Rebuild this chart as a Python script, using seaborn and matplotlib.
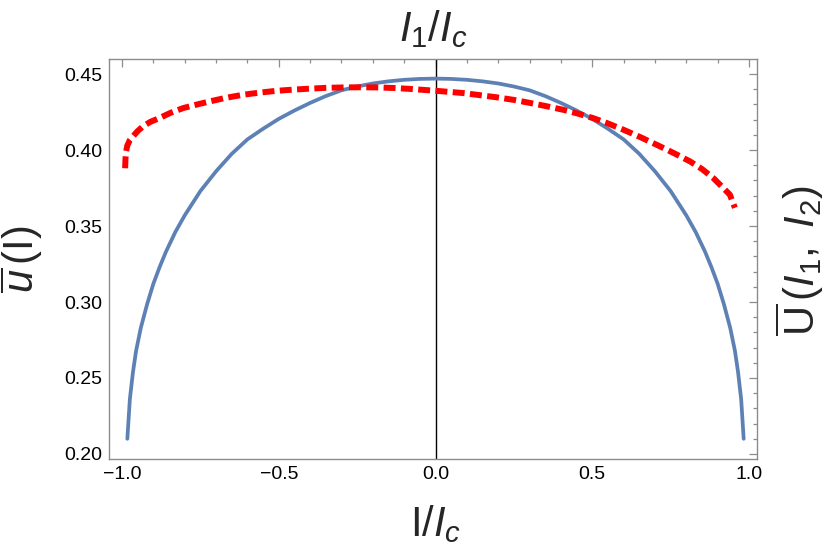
import matplotlib
matplotlib.use("Agg")
import matplotlib.pyplot as plt
from matplotlib.ticker import MultipleLocator
import seaborn as sns
import pandas as pd

# values
blue_x = [-0.983, -0.975, -0.965, -0.955, -0.94, -0.92, -0.90, -0.88, -0.86, -0.83,
          -0.80, -0.75, -0.70, -0.65, -0.60, -0.55, -0.50, -0.45, -0.40, -0.35,
          -0.30, -0.25, -0.20, -0.15, -0.10, -0.05, 0.0,
          0.05, 0.10, 0.15, 0.20, 0.25, 0.30, 0.35, 0.40, 0.45, 0.50, 0.55, 0.60,
          0.65, 0.70, 0.75, 0.80, 0.83, 0.86, 0.88, 0.90, 0.92, 0.94, 0.955, 0.965,
          0.975, 0.983]
blue_y = [0.2100, 0.2360, 0.2540, 0.2680, 0.2830, 0.2985, 0.3120, 0.3230, 0.3330, 0.3460,
          0.3570, 0.3730, 0.3860, 0.3975, 0.4070, 0.4140, 0.4205, 0.4260, 0.4310, 0.4355,
          0.4393, 0.4418, 0.4438, 0.4452, 0.4462, 0.4468, 0.4470,
          0.4468, 0.4462, 0.4452, 0.4438, 0.4418, 0.4393, 0.4355, 0.4310, 0.4260, 0.4205,
          0.4140, 0.4070, 0.3975, 0.3860, 0.3730, 0.3570, 0.3460, 0.3330, 0.3230, 0.3120,
          0.2985, 0.2830, 0.2680, 0.2540, 0.2360, 0.2100]

red_x = [-0.990, -0.989, -0.987, -0.983, -0.975, -0.965, -0.95, -0.933, -0.91, -0.88,
         -0.845, -0.805, -0.76, -0.72, -0.67, -0.613, -0.56, -0.506, -0.45, -0.40,
         -0.35, -0.293, -0.24, -0.187, -0.13, -0.08, 0.0, 0.088, 0.195, 0.25, 0.301,
         0.35, 0.407, 0.45, 0.503, 0.55, 0.599, 0.65, 0.705, 0.76, 0.812, 0.85, 0.886,
         0.918, 0.939, 0.955]
red_y = [0.3880, 0.3940, 0.3990, 0.4030, 0.4065, 0.4090, 0.4125, 0.4156, 0.4185, 0.4211,
         0.4245, 0.4276, 0.4300, 0.4320, 0.4343, 0.4364, 0.4378, 0.4390, 0.4398, 0.4404,
         0.4409, 0.4412, 0.4413, 0.4412, 0.4408, 0.4402, 0.4390, 0.4375, 0.4347, 0.4330,
         0.4310, 0.4290, 0.4265, 0.4242, 0.4210, 0.4175, 0.4134, 0.4088, 0.4035, 0.3980,
         0.3925, 0.3875, 0.3816, 0.3750, 0.3706, 0.3620]

blue = pd.DataFrame({"x": blue_x, "y": blue_y})
red = pd.DataFrame({"x": red_x, "y": red_y})

sns.set_theme(style="white")
plt.rcParams["font.family"] = ["Liberation Sans", "DejaVu Sans"]
plt.rcParams["mathtext.fontset"] = "custom"
plt.rcParams["mathtext.rm"] = "Liberation Sans"
plt.rcParams["mathtext.it"] = "Liberation Sans:italic"

fig = plt.figure(figsize=(8.3, 5.54), dpi=100)
ax = fig.add_axes([109 / 830, 1 - 459 / 554, (757 - 109) / 830, (459 - 59) / 554])

ax.axvline(0, color="black", lw=1.0, zorder=1)
sns.lineplot(data=blue, x="x", y="y", color="#5E81B5", lw=2.7, sort=False, ax=ax, zorder=2)
sns.lineplot(data=red, x="x", y="y", color="#FF0000", lw=4.3, sort=False, ax=ax, zorder=3,
             linestyle=(0, (2.0, 0.9)), dash_capstyle="butt")

ax.set_xlim(-1.0415, 1.0255)
ax.set_ylim(0.1967, 0.4599)
ax.xaxis.set_major_locator(MultipleLocator(0.5))
ax.xaxis.set_minor_locator(MultipleLocator(0.1))
ax.yaxis.set_major_locator(MultipleLocator(0.05))
ax.yaxis.set_minor_locator(MultipleLocator(0.01))
ax.xaxis.set_major_formatter(plt.FuncFormatter(lambda v, p: f"{v:.1f}".replace("-", "\u2212")))
ax.yaxis.set_major_formatter(plt.FuncFormatter(lambda v, p: f"{v:.2f}"))

frame = "#8c8c8c"
for s in ax.spines.values():
    s.set_color(frame)
    s.set_linewidth(1.0)
ax.tick_params(which="both", direction="in", top=True, right=True, color=frame,
               labelsize=14, labelcolor="black", width=0.9)
ax.tick_params(which="major", length=5.5, pad=5)
ax.tick_params(which="minor", length=3)
ax.set_xlabel("")
ax.set_ylabel("")

fig.text(433 / 830, 1 - 41 / 554, r"$I_1/I_c$", ha="center", va="baseline", fontsize=30)
fig.text(435 / 830, 1 - 536 / 554, r"$\mathrm{I}/I_c$", ha="center", va="baseline", fontsize=30)
fig.text(22 / 830, 1 - 259 / 554, r"$\overline{u}\,(\mathrm{I})$", ha="center", va="center",
         rotation=90, fontsize=30)
fig.text(800 / 830, 1 - 261 / 554, r"$\overline{\mathrm{U}}\,(I_1,\ I_2)$", ha="center",
         va="center", rotation=90, fontsize=30)

fig.savefig("out.png", dpi=100)
